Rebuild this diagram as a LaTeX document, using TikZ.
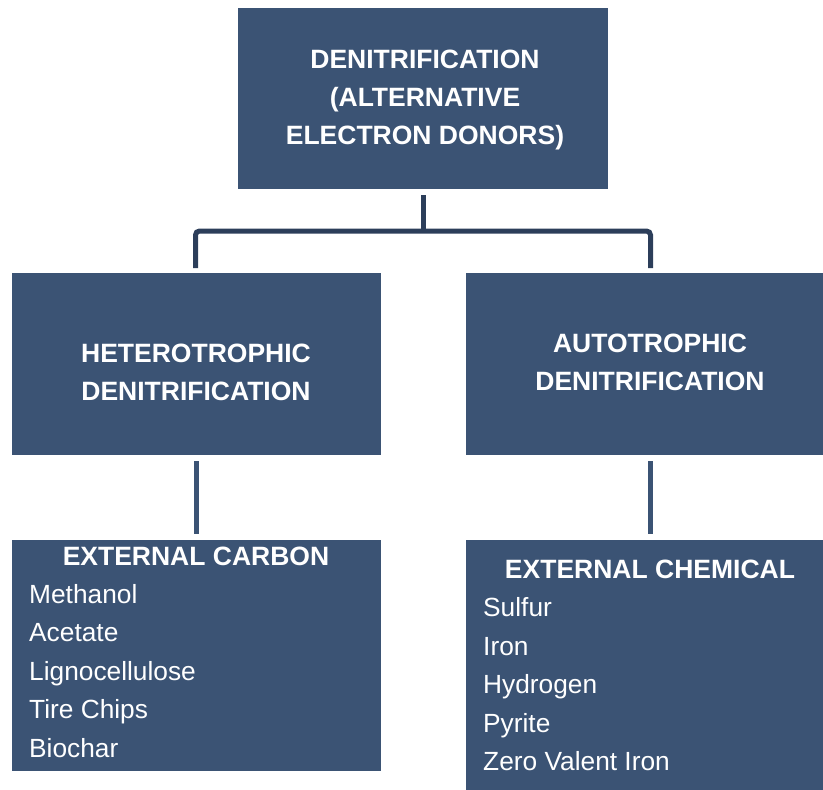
\documentclass[tikz,border=0pt]{standalone}
\usepackage{fontspec}
\setmainfont{Liberation Sans}
\definecolor{boxblue}{RGB}{59,83,116}
\definecolor{lineblue}{RGB}{44,62,90}
\begin{document}
\begin{tikzpicture}[x=1pt,y=-1pt,
  box/.style={fill=boxblue,draw=none,inner sep=0pt,outer sep=0pt},
  ttl/.style={text=white,font=\fontsize{26.5}{30}\selectfont\bfseries,anchor=base,inner sep=0pt},
  item/.style={text=white,font=\fontsize{26.3}{30}\selectfont,anchor=base west,inner sep=0pt},
  conn/.style={draw=lineblue,line width=5pt,rounded corners=4pt},
  conn2/.style={draw=boxblue,line width=5pt}]
\useasboundingbox (0,0) rectangle (823,790);
% boxes
\node[box,minimum width=370pt,minimum height=181pt] (top) at (423,98.5) {};
\node[box,minimum width=369pt,minimum height=182pt] (het) at (196.5,364) {};
\node[box,minimum width=357pt,minimum height=182pt] (aut) at (644.5,364) {};
\node[box,minimum width=369pt,minimum height=231pt] (carb) at (196.5,655.5) {};
\node[box,minimum width=357pt,minimum height=250pt] (chem) at (644.5,665) {};
% titles
\node[ttl] (t1) at (425,68.5) {DENITRIFICATION};
\node[ttl] (t2) at (425,106.5) {(ALTERNATIVE};
\node[ttl] (t3) at (425,144.5) {ELECTRON DONORS)};
\node[ttl] (h1) at (196,362.5) {HETEROTROPHIC};
\node[ttl] (h2) at (196,400.5) {DENITRIFICATION};
\node[ttl] (a1) at (650,352.5) {AUTOTROPHIC};
\node[ttl] (a2) at (650,390.5) {DENITRIFICATION};
\node[ttl] (ch) at (196,565) {EXTERNAL CARBON};
\node[ttl] (eh) at (650,578.5) {EXTERNAL CHEMICAL};
% lists
\foreach \t [count=\i] in {Methanol,Acetate,Lignocellulose,Tire Chips,Biochar}
  \node[item] (c\i) at (29,565+38.4*\i) {\t};
\foreach \t [count=\i] in {Sulfur,Iron,Hydrogen,Pyrite,Zero Valent Iron}
  \node[item] (e\i) at (483,578.5+38.4*\i) {\t};
% connectors
\coordinate (jn) at ([xshift=0.5pt]top.south |- 0,231);
\draw[conn] ([xshift=0.5pt,yshift=-6pt]top.south) -- (jn);
\draw[conn] ([xshift=-1pt,yshift=5pt]het.north) |- (jn) -| ([xshift=6pt,yshift=5pt]aut.north);
\draw[conn2] ([yshift=-6pt]het.south) -- ([yshift=6pt]carb.north);
\draw[conn2] ([xshift=5.5pt,yshift=-6pt]aut.south) -- ([xshift=5.5pt,yshift=6pt]chem.north);
\end{tikzpicture}
\end{document}
